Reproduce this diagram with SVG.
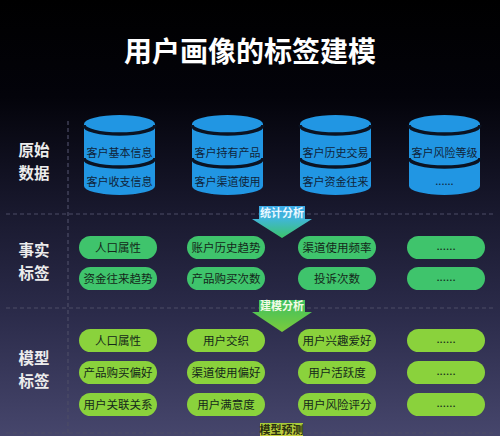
<svg xmlns="http://www.w3.org/2000/svg" width="500" height="436" viewBox="0 0 500 436">
<defs>
<linearGradient id="bg" x1="0" y1="0" x2="0" y2="1">
<stop offset="0" stop-color="#000000"/>
<stop offset="0.22" stop-color="#03030a"/>
<stop offset="0.5" stop-color="#1a1a30"/>
<stop offset="0.72" stop-color="#2b2b4a"/>
<stop offset="1" stop-color="#46466c"/>
</linearGradient>
<linearGradient id="a1" x1="0" y1="0" x2="0" y2="1">
<stop offset="0" stop-color="#3ba9e6"/>
<stop offset="0.4" stop-color="#40b6d8"/>
<stop offset="1" stop-color="#3cc46a"/>
</linearGradient>
<linearGradient id="a2" x1="0" y1="0" x2="0" y2="1">
<stop offset="0" stop-color="#3cc060"/>
<stop offset="1" stop-color="#7ccc3c"/>
</linearGradient>
<linearGradient id="a3" x1="0" y1="0" x2="0" y2="1">
<stop offset="0" stop-color="#a6cc3a"/>
<stop offset="1" stop-color="#c8d040"/>
</linearGradient>
</defs>
<style>
.t{font-family:"Noto Sans CJK SC","Noto Sans",sans-serif}
.title{font-size:28px;font-weight:700;fill:#ffffff}
.side{font-size:15.5px;font-weight:700;fill:#ececec;text-anchor:middle}
.cyl{fill:#2196e3}
.sep{fill:none;stroke:#0b1322;stroke-width:3.5}
.ct{font-size:11px;fill:#10243a;text-anchor:middle}
.fact{fill:#3fc46c}
.model{fill:#8ad23c}
.pt{font-size:11.5px;fill:#14281a;text-anchor:middle}
.dash{stroke:#4c4c66;stroke-width:1.2;stroke-dasharray:4 3;fill:none}
.at{font-size:11px;font-weight:700;text-anchor:middle}
</style>
<rect x="0" y="0" width="500" height="436" fill="url(#bg)"/>
<text class="t title" x="250" y="62" text-anchor="middle">用户画像的标签建模</text>

<g id="grid">
<line class="dash" x1="68" y1="121" x2="68" y2="436"/>
<line class="dash" x1="6" y1="214" x2="494" y2="214"/>
<line class="dash" x1="6" y1="308" x2="494" y2="308"/>
<line class="dash" x1="6" y1="433" x2="494" y2="433"/>
</g>

<g id="label-raw"><text class="t side" x="34" y="156">原始</text><text class="t side" x="34" y="179">数据</text></g>
<g id="label-fact"><text class="t side" x="34" y="256">事实</text><text class="t side" x="34" y="279">标签</text></g>
<g id="label-model"><text class="t side" x="34" y="364">模型</text><text class="t side" x="34" y="387">标签</text></g>

<g id="db1">
<path class="cyl" d="M84,124 A35.5,9 0 0 1 155,124 L155,186 A35.5,9 0 0 1 84,186 Z"/>
<path class="sep" d="M84,125 A35.5,9 0 0 0 155,125"/>
<path class="sep" d="M84,158 A35.5,9 0 0 0 155,158"/>
<text class="t ct" x="119.5" y="157">客户基本信息</text>
<text class="t ct" x="119.5" y="186">客户收支信息</text>
</g>
<g id="db2">
<path class="cyl" d="M192,124 A35.5,9 0 0 1 263,124 L263,186 A35.5,9 0 0 1 192,186 Z"/>
<path class="sep" d="M192,125 A35.5,9 0 0 0 263,125"/>
<path class="sep" d="M192,158 A35.5,9 0 0 0 263,158"/>
<text class="t ct" x="227.5" y="157">客户持有产品</text>
<text class="t ct" x="227.5" y="186">客户渠道使用</text>
</g>
<g id="db3">
<path class="cyl" d="M300,124 A35.5,9 0 0 1 371,124 L371,186 A35.5,9 0 0 1 300,186 Z"/>
<path class="sep" d="M300,125 A35.5,9 0 0 0 371,125"/>
<path class="sep" d="M300,158 A35.5,9 0 0 0 371,158"/>
<text class="t ct" x="335.5" y="157">客户历史交易</text>
<text class="t ct" x="335.5" y="186">客户资金往来</text>
</g>
<g id="db4">
<path class="cyl" d="M409,124 A35.5,9 0 0 1 480,124 L480,186 A35.5,9 0 0 1 409,186 Z"/>
<path class="sep" d="M409,125 A35.5,9 0 0 0 480,125"/>
<path class="sep" d="M409,158 A35.5,9 0 0 0 480,158"/>
<text class="t ct" x="444.5" y="157">客户风险等级</text>
<text class="t ct" x="444.5" y="185">......</text>
</g>

<g id="fact-tags">
<g id="f1"><rect class="fact" x="79" y="236" width="78" height="23" rx="11.5"/><text class="t pt" x="118" y="251.5">人口属性</text></g>
<g id="f2"><rect class="fact" x="187" y="236" width="78" height="23" rx="11.5"/><text class="t pt" x="226" y="251.5">账户历史趋势</text></g>
<g id="f3"><rect class="fact" x="298" y="236" width="78" height="23" rx="11.5"/><text class="t pt" x="337" y="251.5">渠道使用频率</text></g>
<g id="f4"><rect class="fact" x="407" y="236" width="78" height="23" rx="11.5"/><text class="t pt" x="446" y="250">......</text></g>
<g id="f5"><rect class="fact" x="79" y="267" width="78" height="23" rx="11.5"/><text class="t pt" x="118" y="282.5">资金往来趋势</text></g>
<g id="f6"><rect class="fact" x="187" y="267" width="78" height="23" rx="11.5"/><text class="t pt" x="226" y="282.5">产品购买次数</text></g>
<g id="f7"><rect class="fact" x="298" y="267" width="78" height="23" rx="11.5"/><text class="t pt" x="337" y="282.5">投诉次数</text></g>
<g id="f8"><rect class="fact" x="407" y="267" width="78" height="23" rx="11.5"/><text class="t pt" x="446" y="281">......</text></g>
</g>

<g id="model-tags">
<g id="m1"><rect class="model" x="79" y="329" width="78" height="23" rx="11.5"/><text class="t pt" x="118" y="344.5">人口属性</text></g>
<g id="m2"><rect class="model" x="187" y="329" width="78" height="23" rx="11.5"/><text class="t pt" x="226" y="344.5">用户交织</text></g>
<g id="m3"><rect class="model" x="298" y="329" width="78" height="23" rx="11.5"/><text class="t pt" x="337" y="344.5">用户兴趣爱好</text></g>
<g id="m4"><rect class="model" x="407" y="329" width="78" height="23" rx="11.5"/><text class="t pt" x="446" y="343">......</text></g>
<g id="m5"><rect class="model" x="79" y="361" width="78" height="23" rx="11.5"/><text class="t pt" x="118" y="376.5">产品购买偏好</text></g>
<g id="m6"><rect class="model" x="187" y="361" width="78" height="23" rx="11.5"/><text class="t pt" x="226" y="376.5">渠道使用偏好</text></g>
<g id="m7"><rect class="model" x="298" y="361" width="78" height="23" rx="11.5"/><text class="t pt" x="337" y="376.5">用户活跃度</text></g>
<g id="m8"><rect class="model" x="407" y="361" width="78" height="23" rx="11.5"/><text class="t pt" x="446" y="375">......</text></g>
<g id="m9"><rect class="model" x="79" y="393" width="78" height="23" rx="11.5"/><text class="t pt" x="118" y="408.5">用户关联关系</text></g>
<g id="m10"><rect class="model" x="187" y="393" width="78" height="23" rx="11.5"/><text class="t pt" x="226" y="408.5">用户满意度</text></g>
<g id="m11"><rect class="model" x="298" y="393" width="78" height="23" rx="11.5"/><text class="t pt" x="337" y="408.5">用户风险评分</text></g>
<g id="m12"><rect class="model" x="407" y="393" width="78" height="23" rx="11.5"/><text class="t pt" x="446" y="407">......</text></g>
</g>

<g id="connectors">
<g id="arrow-stat">
<path d="M259,206 L305,206 L305,219 L312,219 L282,238 L252,219 L259,219 Z" fill="url(#a1)"/>
<text class="t at" x="282" y="216.5" fill="#e8f8ff">统计分析</text>
</g>
<g id="arrow-model">
<path d="M259,300 L305,300 L305,312 L312,312 L282,332 L252,312 L259,312 Z" fill="url(#a2)"/>
<text class="t at" x="282" y="310" fill="#f2fbe6">建模分析</text>
</g>
<g id="arrow-predict">
<rect x="260" y="423" width="43" height="13" fill="url(#a3)"/>
<text class="t at" x="281.5" y="434" fill="#2a3010">模型预测</text>
</g>
</g>
</svg>
